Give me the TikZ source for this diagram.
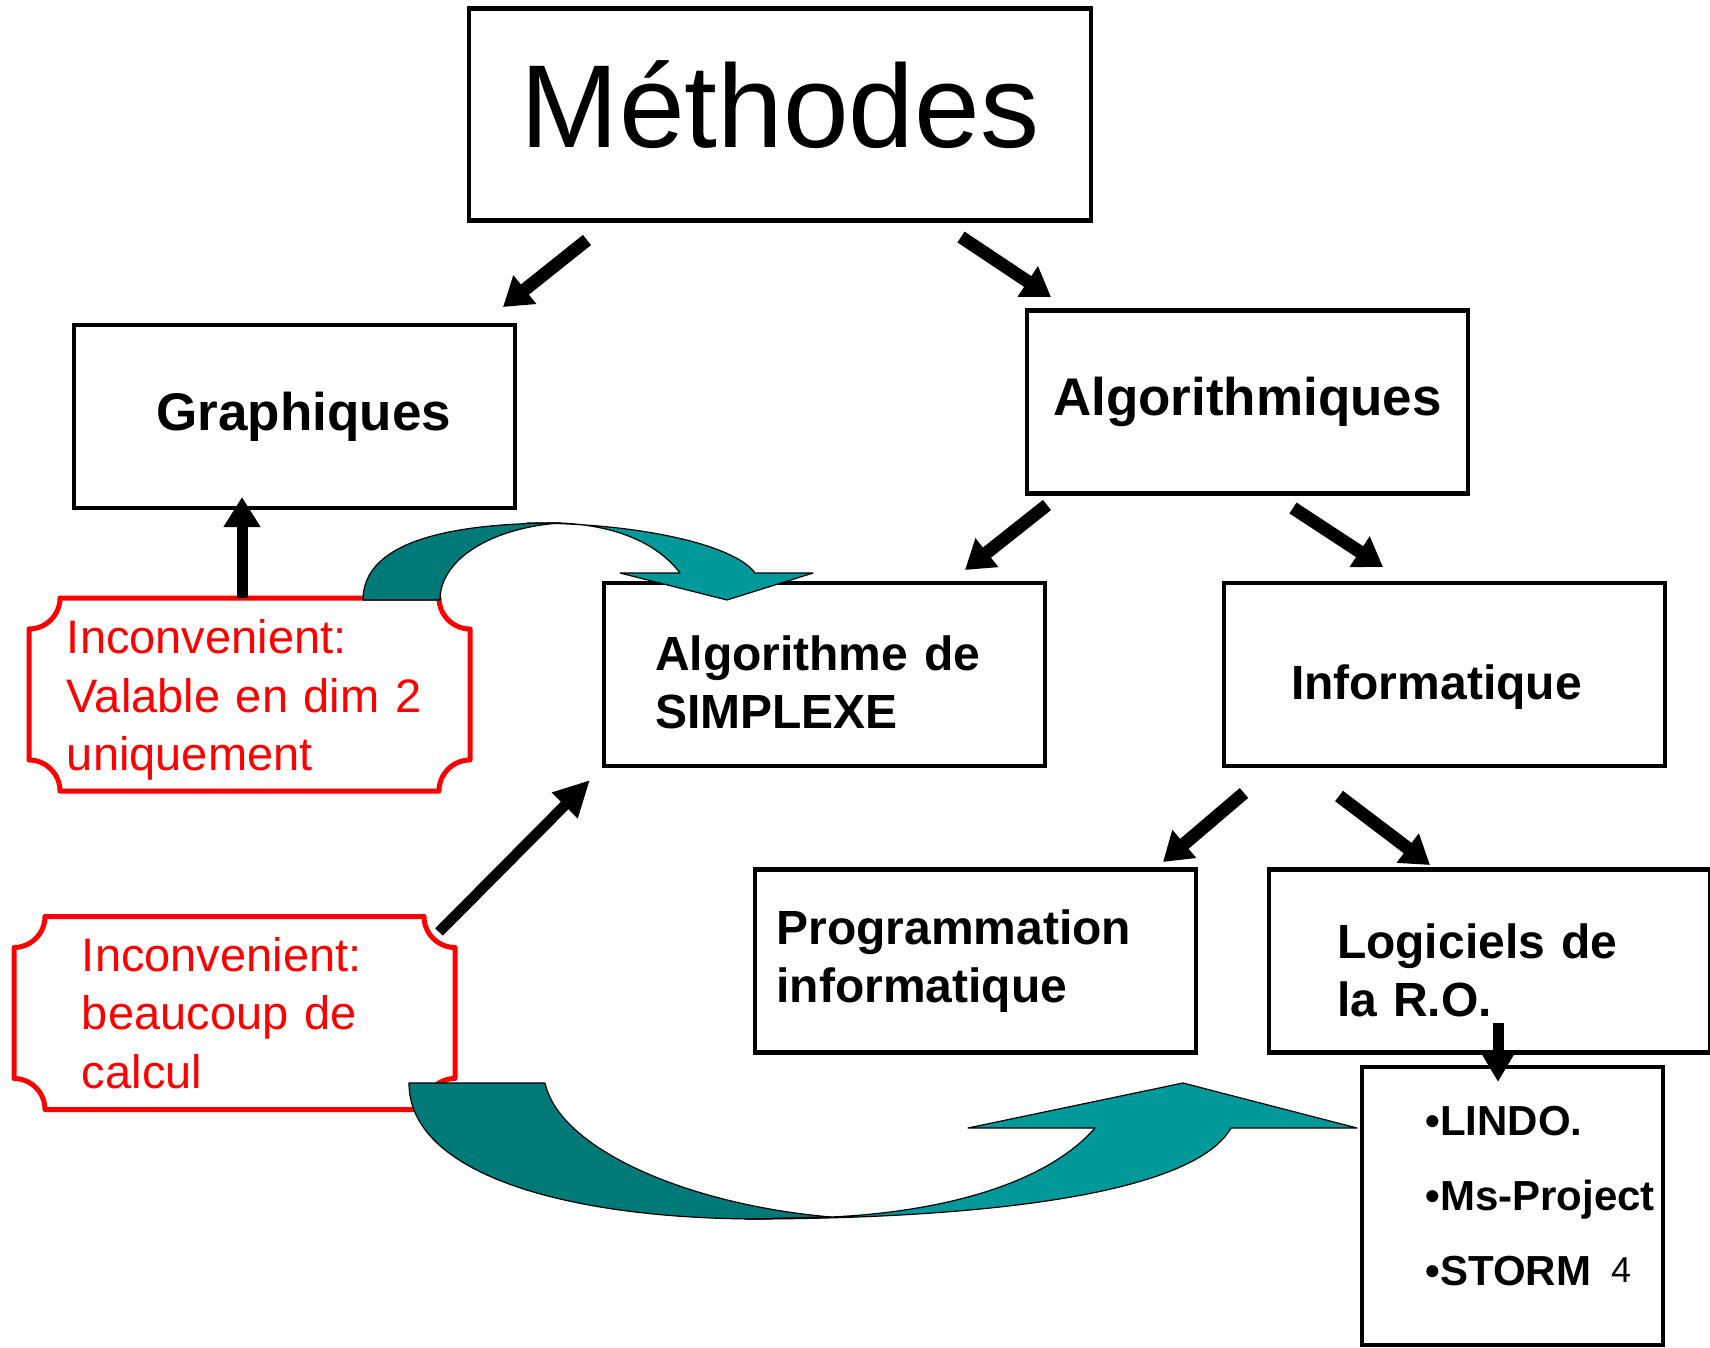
\documentclass[tikz,border=0pt]{standalone}
\usepackage{fontspec}
\setmainfont{Liberation Sans}
\usetikzlibrary{arrows.meta, positioning, calc}

\definecolor{tealfonce}{RGB}{0,122,120}
\definecolor{tealclair}{RGB}{0,153,153}

% cadre rouge a coins rentrants
\newcommand{\plaquebox}[1]{%
  \draw[plaque] ($(#1.north west)+(31,0)$) -- ($(#1.north east)+(-31,0)$)
    .. controls +(0,17) and +(-17,0) .. ($(#1.north east)+(0,31)$)
    -- ($(#1.south east)+(0,-31)$)
    .. controls +(-17,0) and +(0,-17) .. ($(#1.south east)+(-31,0)$)
    -- ($(#1.south west)+(31,0)$)
    .. controls +(0,-17) and +(17,0) .. ($(#1.south west)+(0,-31)$)
    -- ($(#1.north west)+(0,31)$)
    .. controls +(17,0) and +(0,17) .. ($(#1.north west)+(31,0)$) -- cycle;}

\begin{document}
\begin{tikzpicture}[
        x=0.5pt, y=-0.5pt,
        block/.style={
            rectangle,
            draw,
            line width=2.4pt,
            minimum width=220.5pt,
            minimum height=91.5pt,
            inner sep=0pt,
            font=\bfseries\fontsize{24}{29}\selectfont
        },
        note/.style={
            rectangle,
            text=red,
            align=left,
            minimum height=96.5pt,
            inner ysep=0pt,
            outer sep=0pt,
            font=\fontsize{23.5}{29.25}\selectfont
        },
        plaque/.style={draw=red, line width=2.5pt, line join=round},
        fleche/.style={line width=6.5pt, -{Triangle[length=14pt, width=17.5pt]}},
        courbe/.style={draw=black, line width=0.6pt, line join=round}
    ]
    \useasboundingbox (0,0) rectangle (1710,1348);

    % les boites
    \node[block, minimum width=311pt, minimum height=106pt, text depth=10.5pt,
          font=\fontsize{59}{70}\selectfont] (meth) at (780,114.5) {Méthodes};
    \node[block, align=right, text width=156.5pt, inner xsep=32pt,
          font=\bfseries\fontsize{26.5}{30}\selectfont] (graph) at (294.5,416.5) {Graphiques};
    \node[block, font=\bfseries\fontsize{26.5}{30}\selectfont] (algo) at (1247.5,402) {Algorithmiques};
    \node[block, align=left, text width=169.5pt, inner xsep=25.5pt] (simp) at (824.5,674.5) {\rule{0pt}{25.5pt}Algorithme de\\SIMPLEXE};
    \node[block, align=left, text width=153.5pt, inner xsep=33pt,
          text height=29.5pt, text depth=5pt] (info) at (1444.5,674.5) {Informatique};
    \node[block, align=left, text width=199pt, inner xsep=10.25pt] (prog) at (975.5,961) {Programmation\\informatique};
    \node[block, align=left, text width=152.5pt, inner xsep=33pt] (logi) at (1489.5,961) {\rule{0pt}{26.5pt}Logiciels de\\la R.O.};
    \node[block, minimum width=150.5pt, minimum height=139pt] (lindo) at (1512.5,1206) {};
    \node[anchor=west, align=left, inner sep=0pt,
          font=\bfseries\fontsize{21}{37.5}\selectfont] (liste) at (1425,1196) {•LINDO.\\•Ms-Project\\•STORM};
    \node[font=\fontsize{18}{20}\selectfont] (num) at (1621,1270) {4};

    % inconvenients
    \node[note, text width=182.5pt, inner xsep=19pt] (inc1) at (249.5,694.5) {\rule{0pt}{22.5pt}Inconvenient:\\Valable en dim 2\\uniquement};
    \node[note, text width=152.5pt, inner xsep=34pt] (inc2) at (234.5,1013) {Inconvenient:\\beaucoup de\\calcul};
    \plaquebox{inc1}
    \plaquebox{inc2}

    % fleches noires
    \coordinate (m-g) at (587,240);   \coordinate (g-m) at (503,307);
    \coordinate (m-a) at (961,237);   \coordinate (a-m) at (1051,297);
    \coordinate (a-s) at (1047,505);  \coordinate (s-a) at (965,570);
    \coordinate (a-i) at (1293,508);  \coordinate (i-a) at (1383,567);
    \coordinate (i-p) at (1244,793);  \coordinate (p-i) at (1163,862);
    \coordinate (i-l) at (1339,796);  \coordinate (l-i) at (1430,865);
    \coordinate (c-g) at (242,598);   \coordinate (g-c) at (242,497);
    \coordinate (c-s) at (439,932);   \coordinate (s-c) at (590,780);
    \coordinate (l-d) at (1498,1023); \coordinate (d-l) at (1498,1082);
    \draw[fleche] (m-g) -- (g-m);
    \draw[fleche] (m-a) -- (a-m);
    \draw[fleche] (a-s) -- (s-a);
    \draw[fleche] (a-i) -- (i-a);
    \draw[fleche] (i-p) -- (p-i);
    \draw[fleche] (i-l) -- (l-i);
    \draw[line width=5.5pt, -{Triangle[length=15pt, width=17.5pt]}] (c-g) -- (g-c);
    \draw[line width=5.3pt, -{Triangle[length=18pt, width=17pt]}] (c-s) -- (s-c);
    \draw[line width=5.5pt, -{Triangle[length=16pt, width=17.5pt]}] (l-d) -- (d-l);

    % fleches courbes
    \draw[courbe, fill=tealfonce] (363,600) .. controls (363,545) and (440,523) .. (560,523)
        .. controls (490,528) and (440,560) .. (440,600) -- cycle;
    \draw[courbe, fill=tealclair] (527,523) .. controls (640,523) and (735,545) .. (755,573)
        -- (813,573) -- (727,600) -- (620,573) -- (680,573)
        .. controls (655,540) and (610,525) .. (560,523) -- cycle;
    \draw[courbe, fill=tealfonce] (409,1083) .. controls (409,1175) and (570,1219) .. (760,1219)
        -- (831,1217) .. controls (690,1205) and (560,1150) .. (545,1083) -- cycle;
    \draw[courbe, fill=tealclair] (746,1219) .. controls (950,1219) and (1190,1200) .. (1231,1128)
        -- (1357,1128) -- (1183,1083) -- (968,1128) -- (1095,1128)
        .. controls (1045,1185) and (940,1212) .. (831,1217) -- cycle;
\end{tikzpicture}
\end{document}
